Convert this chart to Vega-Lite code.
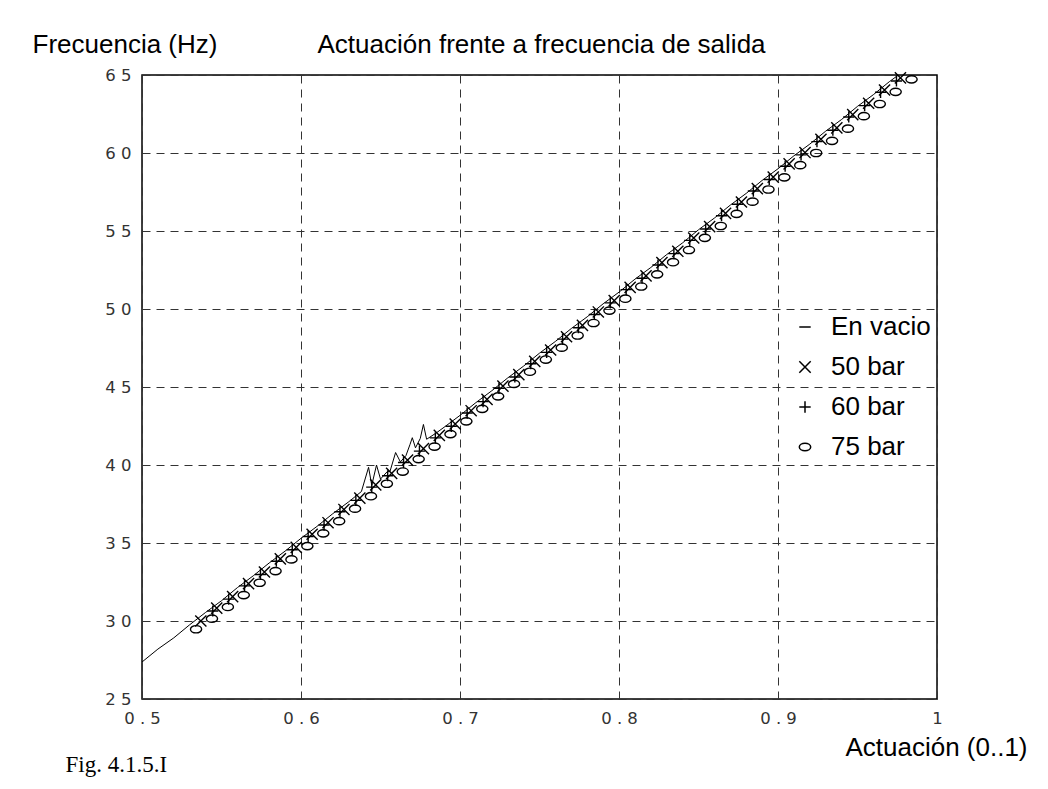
{
  "$schema": "https://vega.github.io/schema/vega-lite/v6.json",
  "width": 795,
  "height": 624,
  "autosize": {"type": "none"},
  "padding": {"left": 142, "top": 75, "right": 111, "bottom": 90},
  "background": "white",
  "config": {
    "view": {"stroke": "#000000", "strokeWidth": 1.5},
    "font": "Liberation Sans",
    "axis": {
      "labelFont": "DejaVu Sans",
      "labelFontSize": 16.5,
      "labelFontWeight": "normal",
      "labelColor": "#333333",
      "labelFlush": false,
      "labelOverlap": false,
      "ticks": false,
      "domain": false,
      "gridColor": "#333333",
      "gridWidth": 1,
      "gridDash": [8, 6],
      "gridOpacity": 1,
      "titleFont": "Liberation Sans",
      "titleFontSize": 26,
      "titleFontWeight": "normal",
      "titleColor": "#000000",
      "titleAngle": 0,
      "titleAlign": "left",
      "titleBaseline": "alphabetic"
    }
  },
  "datasets": {
    "en_vacio": [
      {"actuacion": 0.500, "frecuencia": 27.37},
      {"actuacion": 0.510, "frecuencia": 28.20},
      {"actuacion": 0.520, "frecuencia": 28.92},
      {"actuacion": 0.530, "frecuencia": 29.76},
      {"actuacion": 0.540, "frecuencia": 30.55},
      {"actuacion": 0.550, "frecuencia": 31.30},
      {"actuacion": 0.560, "frecuencia": 32.14},
      {"actuacion": 0.570, "frecuencia": 32.90},
      {"actuacion": 0.580, "frecuencia": 33.72},
      {"actuacion": 0.590, "frecuencia": 34.48},
      {"actuacion": 0.600, "frecuencia": 35.30},
      {"actuacion": 0.610, "frecuencia": 36.06},
      {"actuacion": 0.620, "frecuencia": 36.88},
      {"actuacion": 0.630, "frecuencia": 37.64},
      {"actuacion": 0.638, "frecuencia": 38.30},
      {"actuacion": 0.6425, "frecuencia": 39.85},
      {"actuacion": 0.6445, "frecuencia": 38.70},
      {"actuacion": 0.6475, "frecuencia": 40.00},
      {"actuacion": 0.650, "frecuencia": 39.10},
      {"actuacion": 0.654, "frecuencia": 39.55},
      {"actuacion": 0.656, "frecuencia": 39.60},
      {"actuacion": 0.6595, "frecuencia": 40.80},
      {"actuacion": 0.6625, "frecuencia": 40.20},
      {"actuacion": 0.666, "frecuencia": 40.60},
      {"actuacion": 0.6685, "frecuencia": 41.30},
      {"actuacion": 0.670, "frecuencia": 41.75},
      {"actuacion": 0.672, "frecuencia": 41.10},
      {"actuacion": 0.675, "frecuencia": 41.70},
      {"actuacion": 0.677, "frecuencia": 42.60},
      {"actuacion": 0.679, "frecuencia": 41.65},
      {"actuacion": 0.685, "frecuencia": 42.05},
      {"actuacion": 0.690, "frecuencia": 42.42},
      {"actuacion": 0.700, "frecuencia": 43.18},
      {"actuacion": 0.710, "frecuencia": 44.00},
      {"actuacion": 0.720, "frecuencia": 44.76},
      {"actuacion": 0.730, "frecuencia": 45.58},
      {"actuacion": 0.740, "frecuencia": 46.34},
      {"actuacion": 0.750, "frecuencia": 47.17},
      {"actuacion": 0.760, "frecuencia": 47.92},
      {"actuacion": 0.770, "frecuencia": 48.75},
      {"actuacion": 0.780, "frecuencia": 49.50},
      {"actuacion": 0.790, "frecuencia": 50.33},
      {"actuacion": 0.800, "frecuencia": 51.08},
      {"actuacion": 0.810, "frecuencia": 51.91},
      {"actuacion": 0.820, "frecuencia": 52.66},
      {"actuacion": 0.830, "frecuencia": 53.49},
      {"actuacion": 0.840, "frecuencia": 54.24},
      {"actuacion": 0.850, "frecuencia": 55.08},
      {"actuacion": 0.860, "frecuencia": 55.83},
      {"actuacion": 0.870, "frecuencia": 56.66},
      {"actuacion": 0.880, "frecuencia": 57.41},
      {"actuacion": 0.890, "frecuencia": 58.24},
      {"actuacion": 0.900, "frecuencia": 58.99},
      {"actuacion": 0.910, "frecuencia": 59.82},
      {"actuacion": 0.920, "frecuencia": 60.57},
      {"actuacion": 0.930, "frecuencia": 61.40},
      {"actuacion": 0.940, "frecuencia": 62.15},
      {"actuacion": 0.950, "frecuencia": 62.99},
      {"actuacion": 0.960, "frecuencia": 63.74},
      {"actuacion": 0.970, "frecuencia": 64.57},
      {"actuacion": 0.980, "frecuencia": 65.32}
    ],
    "cargas": [
      {"serie": "50 bar", "actuacion": 0.537, "frecuencia": 30.00},
      {"serie": "50 bar", "actuacion": 0.547, "frecuencia": 30.82},
      {"serie": "50 bar", "actuacion": 0.557, "frecuencia": 31.56},
      {"serie": "50 bar", "actuacion": 0.567, "frecuencia": 32.40},
      {"serie": "50 bar", "actuacion": 0.577, "frecuencia": 33.14},
      {"serie": "50 bar", "actuacion": 0.587, "frecuencia": 33.98},
      {"serie": "50 bar", "actuacion": 0.597, "frecuencia": 34.72},
      {"serie": "50 bar", "actuacion": 0.607, "frecuencia": 35.56},
      {"serie": "50 bar", "actuacion": 0.617, "frecuencia": 36.30},
      {"serie": "50 bar", "actuacion": 0.627, "frecuencia": 37.15},
      {"serie": "50 bar", "actuacion": 0.637, "frecuencia": 37.88},
      {"serie": "50 bar", "actuacion": 0.647, "frecuencia": 38.73},
      {"serie": "50 bar", "actuacion": 0.657, "frecuencia": 39.46},
      {"serie": "50 bar", "actuacion": 0.667, "frecuencia": 40.31},
      {"serie": "50 bar", "actuacion": 0.677, "frecuencia": 41.05},
      {"serie": "50 bar", "actuacion": 0.687, "frecuencia": 41.90},
      {"serie": "50 bar", "actuacion": 0.697, "frecuencia": 42.63},
      {"serie": "50 bar", "actuacion": 0.707, "frecuencia": 43.48},
      {"serie": "50 bar", "actuacion": 0.717, "frecuencia": 44.21},
      {"serie": "50 bar", "actuacion": 0.727, "frecuencia": 45.06},
      {"serie": "50 bar", "actuacion": 0.737, "frecuencia": 45.79},
      {"serie": "50 bar", "actuacion": 0.747, "frecuencia": 46.64},
      {"serie": "50 bar", "actuacion": 0.757, "frecuencia": 47.37},
      {"serie": "50 bar", "actuacion": 0.767, "frecuencia": 48.22},
      {"serie": "50 bar", "actuacion": 0.777, "frecuencia": 48.95},
      {"serie": "50 bar", "actuacion": 0.787, "frecuencia": 49.81},
      {"serie": "50 bar", "actuacion": 0.797, "frecuencia": 50.54},
      {"serie": "50 bar", "actuacion": 0.807, "frecuencia": 51.39},
      {"serie": "50 bar", "actuacion": 0.817, "frecuencia": 52.12},
      {"serie": "50 bar", "actuacion": 0.827, "frecuencia": 52.97},
      {"serie": "50 bar", "actuacion": 0.837, "frecuencia": 53.70},
      {"serie": "50 bar", "actuacion": 0.847, "frecuencia": 54.55},
      {"serie": "50 bar", "actuacion": 0.857, "frecuencia": 55.28},
      {"serie": "50 bar", "actuacion": 0.867, "frecuencia": 56.13},
      {"serie": "50 bar", "actuacion": 0.877, "frecuencia": 56.86},
      {"serie": "50 bar", "actuacion": 0.887, "frecuencia": 57.72},
      {"serie": "50 bar", "actuacion": 0.897, "frecuencia": 58.45},
      {"serie": "50 bar", "actuacion": 0.907, "frecuencia": 59.30},
      {"serie": "50 bar", "actuacion": 0.917, "frecuencia": 60.03},
      {"serie": "50 bar", "actuacion": 0.927, "frecuencia": 60.88},
      {"serie": "50 bar", "actuacion": 0.937, "frecuencia": 61.61},
      {"serie": "50 bar", "actuacion": 0.947, "frecuencia": 62.46},
      {"serie": "50 bar", "actuacion": 0.957, "frecuencia": 63.19},
      {"serie": "50 bar", "actuacion": 0.967, "frecuencia": 64.04},
      {"serie": "50 bar", "actuacion": 0.977, "frecuencia": 64.82},
      {"serie": "60 bar", "actuacion": 0.5445, "frecuencia": 30.64},
      {"serie": "60 bar", "actuacion": 0.5545, "frecuencia": 31.40},
      {"serie": "60 bar", "actuacion": 0.5645, "frecuencia": 32.25},
      {"serie": "60 bar", "actuacion": 0.5745, "frecuencia": 32.98},
      {"serie": "60 bar", "actuacion": 0.5845, "frecuencia": 33.83},
      {"serie": "60 bar", "actuacion": 0.5945, "frecuencia": 34.57},
      {"serie": "60 bar", "actuacion": 0.6045, "frecuencia": 35.42},
      {"serie": "60 bar", "actuacion": 0.6145, "frecuencia": 36.15},
      {"serie": "60 bar", "actuacion": 0.6245, "frecuencia": 37.00},
      {"serie": "60 bar", "actuacion": 0.6345, "frecuencia": 37.73},
      {"serie": "60 bar", "actuacion": 0.6445, "frecuencia": 38.58},
      {"serie": "60 bar", "actuacion": 0.6545, "frecuencia": 39.31},
      {"serie": "60 bar", "actuacion": 0.6645, "frecuencia": 40.16},
      {"serie": "60 bar", "actuacion": 0.6745, "frecuencia": 40.89},
      {"serie": "60 bar", "actuacion": 0.6845, "frecuencia": 41.74},
      {"serie": "60 bar", "actuacion": 0.6945, "frecuencia": 42.48},
      {"serie": "60 bar", "actuacion": 0.7045, "frecuencia": 43.33},
      {"serie": "60 bar", "actuacion": 0.7145, "frecuencia": 44.06},
      {"serie": "60 bar", "actuacion": 0.7245, "frecuencia": 44.91},
      {"serie": "60 bar", "actuacion": 0.7345, "frecuencia": 45.64},
      {"serie": "60 bar", "actuacion": 0.7445, "frecuencia": 46.49},
      {"serie": "60 bar", "actuacion": 0.7545, "frecuencia": 47.22},
      {"serie": "60 bar", "actuacion": 0.7645, "frecuencia": 48.07},
      {"serie": "60 bar", "actuacion": 0.7745, "frecuencia": 48.80},
      {"serie": "60 bar", "actuacion": 0.7845, "frecuencia": 49.65},
      {"serie": "60 bar", "actuacion": 0.7945, "frecuencia": 50.39},
      {"serie": "60 bar", "actuacion": 0.8045, "frecuencia": 51.24},
      {"serie": "60 bar", "actuacion": 0.8145, "frecuencia": 51.97},
      {"serie": "60 bar", "actuacion": 0.8245, "frecuencia": 52.82},
      {"serie": "60 bar", "actuacion": 0.8345, "frecuencia": 53.55},
      {"serie": "60 bar", "actuacion": 0.8445, "frecuencia": 54.40},
      {"serie": "60 bar", "actuacion": 0.8545, "frecuencia": 55.13},
      {"serie": "60 bar", "actuacion": 0.8645, "frecuencia": 55.98},
      {"serie": "60 bar", "actuacion": 0.8745, "frecuencia": 56.71},
      {"serie": "60 bar", "actuacion": 0.8845, "frecuencia": 57.56},
      {"serie": "60 bar", "actuacion": 0.8945, "frecuencia": 58.30},
      {"serie": "60 bar", "actuacion": 0.9045, "frecuencia": 59.15},
      {"serie": "60 bar", "actuacion": 0.9145, "frecuencia": 59.88},
      {"serie": "60 bar", "actuacion": 0.9245, "frecuencia": 60.73},
      {"serie": "60 bar", "actuacion": 0.9345, "frecuencia": 61.46},
      {"serie": "60 bar", "actuacion": 0.9445, "frecuencia": 62.31},
      {"serie": "60 bar", "actuacion": 0.9545, "frecuencia": 63.04},
      {"serie": "60 bar", "actuacion": 0.9645, "frecuencia": 63.89},
      {"serie": "60 bar", "actuacion": 0.9745, "frecuencia": 64.62},
      {"serie": "75 bar", "actuacion": 0.534, "frecuencia": 29.47},
      {"serie": "75 bar", "actuacion": 0.544, "frecuencia": 30.15},
      {"serie": "75 bar", "actuacion": 0.554, "frecuencia": 30.90},
      {"serie": "75 bar", "actuacion": 0.564, "frecuencia": 31.66},
      {"serie": "75 bar", "actuacion": 0.574, "frecuencia": 32.45},
      {"serie": "75 bar", "actuacion": 0.584, "frecuencia": 33.20},
      {"serie": "75 bar", "actuacion": 0.594, "frecuencia": 33.95},
      {"serie": "75 bar", "actuacion": 0.604, "frecuencia": 34.80},
      {"serie": "75 bar", "actuacion": 0.614, "frecuencia": 35.62},
      {"serie": "75 bar", "actuacion": 0.624, "frecuencia": 36.40},
      {"serie": "75 bar", "actuacion": 0.634, "frecuencia": 37.20},
      {"serie": "75 bar", "actuacion": 0.644, "frecuencia": 38.00},
      {"serie": "75 bar", "actuacion": 0.654, "frecuencia": 38.80},
      {"serie": "75 bar", "actuacion": 0.664, "frecuencia": 39.58},
      {"serie": "75 bar", "actuacion": 0.674, "frecuencia": 40.38},
      {"serie": "75 bar", "actuacion": 0.684, "frecuencia": 41.18},
      {"serie": "75 bar", "actuacion": 0.694, "frecuencia": 41.98},
      {"serie": "75 bar", "actuacion": 0.704, "frecuencia": 42.80},
      {"serie": "75 bar", "actuacion": 0.714, "frecuencia": 43.60},
      {"serie": "75 bar", "actuacion": 0.724, "frecuencia": 44.40},
      {"serie": "75 bar", "actuacion": 0.734, "frecuencia": 45.20},
      {"serie": "75 bar", "actuacion": 0.744, "frecuencia": 45.98},
      {"serie": "75 bar", "actuacion": 0.754, "frecuencia": 46.76},
      {"serie": "75 bar", "actuacion": 0.764, "frecuencia": 47.52},
      {"serie": "75 bar", "actuacion": 0.774, "frecuencia": 48.30},
      {"serie": "75 bar", "actuacion": 0.784, "frecuencia": 49.10},
      {"serie": "75 bar", "actuacion": 0.794, "frecuencia": 49.90},
      {"serie": "75 bar", "actuacion": 0.804, "frecuencia": 50.66},
      {"serie": "75 bar", "actuacion": 0.814, "frecuencia": 51.44},
      {"serie": "75 bar", "actuacion": 0.824, "frecuencia": 52.22},
      {"serie": "75 bar", "actuacion": 0.834, "frecuencia": 53.00},
      {"serie": "75 bar", "actuacion": 0.844, "frecuencia": 53.78},
      {"serie": "75 bar", "actuacion": 0.854, "frecuencia": 54.56},
      {"serie": "75 bar", "actuacion": 0.864, "frecuencia": 55.32},
      {"serie": "75 bar", "actuacion": 0.874, "frecuencia": 56.10},
      {"serie": "75 bar", "actuacion": 0.884, "frecuencia": 56.88},
      {"serie": "75 bar", "actuacion": 0.894, "frecuencia": 57.66},
      {"serie": "75 bar", "actuacion": 0.904, "frecuencia": 58.44},
      {"serie": "75 bar", "actuacion": 0.914, "frecuencia": 59.22},
      {"serie": "75 bar", "actuacion": 0.924, "frecuencia": 60.00},
      {"serie": "75 bar", "actuacion": 0.934, "frecuencia": 60.78},
      {"serie": "75 bar", "actuacion": 0.944, "frecuencia": 61.56},
      {"serie": "75 bar", "actuacion": 0.954, "frecuencia": 62.36},
      {"serie": "75 bar", "actuacion": 0.964, "frecuencia": 63.14},
      {"serie": "75 bar", "actuacion": 0.974, "frecuencia": 63.92},
      {"serie": "75 bar", "actuacion": 0.984, "frecuencia": 64.72}
    ]
  },
  "resolve": {"axis": {"x": "independent", "y": "independent"}},
  "layer": [
    {
      "data": {"name": "en_vacio"},
      "mark": {"type": "line", "color": "#000000", "strokeWidth": 1, "clip": true},
      "encoding": {
        "x": {
          "field": "actuacion",
          "type": "quantitative",
          "scale": {"domain": [0.5, 1], "nice": false, "zero": false},
          "axis": {
            "orient": "bottom",
            "grid": true,
            "values": [0.5, 0.6, 0.7, 0.8, 0.9, 1],
            "labelExpr": "join(split(datum.value == 1 ? '1' : format(datum.value, '.1f'), ''), ' ')",
            "labelPadding": 11,
            "title": "Actuación (0..1)",
            "titleAlign": "right",
            "titleX": 885,
            "titleY": 56
          }
        },
        "y": {
          "field": "frecuencia",
          "type": "quantitative",
          "scale": {"domain": [25, 65], "nice": false, "zero": false},
          "axis": {
            "orient": "left",
            "grid": true,
            "values": [25, 30, 35, 40, 45, 50, 55, 60, 65],
            "labelExpr": "join(split(datum.label, ''), ' ')",
            "labelPadding": 11,
            "title": "Frecuencia (Hz)",
            "titleX": -110,
            "titleY": -23
          }
        }
      }
    },
    {
      "data": {"name": "cargas"},
      "mark": {"type": "point", "filled": false, "color": "#000000", "strokeWidth": 1.4, "size": 125, "opacity": 1},
      "encoding": {
        "x": {
          "field": "actuacion",
          "type": "quantitative",
          "axis": {
            "orient": "top",
            "grid": false,
            "labels": false,
            "title": "Actuación frente a frecuencia de salida",
            "titleX": 175,
            "titleY": -23
          }
        },
        "y": {
          "field": "frecuencia",
          "type": "quantitative",
          "axis": {
            "orient": "right",
            "grid": false,
            "labels": false,
            "title": "Fig. 4.1.5.I",
            "titleFont": "Liberation Serif",
            "titleFontSize": 23,
            "titleX": -872,
            "titleY": 696
          }
        },
        "shape": {
          "field": "serie",
          "type": "nominal",
          "scale": {
            "domain": ["En vacio", "50 bar", "60 bar", "75 bar"],
            "range": [
              "M-1,0H1",
              "M-1,-1L1,1M-1,1L1,-1",
              "M-1,0H1M0,-1V1",
              "M-1,0A1,0.65 0 1,1 1,0A1,0.65 0 1,1 -1,0Z"
            ]
          },
          "legend": {
            "orient": "none",
            "legendX": 650,
            "legendY": 239,
            "title": null,
            "padding": 0,
            "labelFont": "Liberation Sans",
            "labelFontSize": 26,
            "labelColor": "#000000",
            "labelOffset": 13,
            "rowPadding": 14,
            "symbolSize": 130,
            "symbolStrokeWidth": 1.5,
            "symbolStrokeColor": "#000000",
            "symbolFillColor": "transparent",
            "symbolOpacity": 1
          }
        }
      }
    }
  ]
}
